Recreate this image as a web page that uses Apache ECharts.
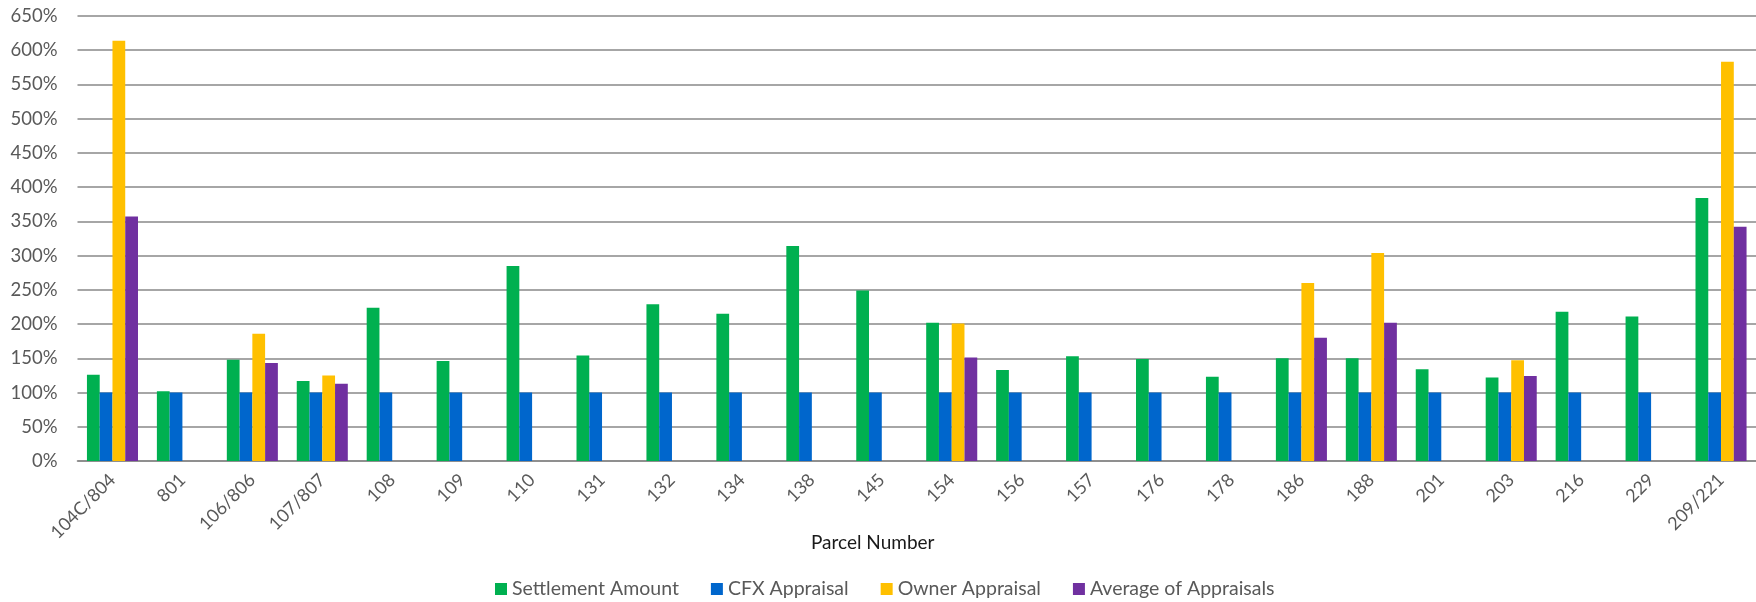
<!DOCTYPE html>
<html>
<head>
<meta charset="utf-8">
<title>Parcel Settlements vs Appraisals</title>
<script src="https://cdn.jsdelivr.net/npm/echarts@6/dist/echarts.min.js"></script>
<style>
  html, body { margin: 0; padding: 0; background: #ffffff; }
  #chart { width: 1756px; height: 602px; }
</style>
</head>
<body>
<div id="chart"></div>
<script>
// Parcel numbers along the x axis
const parcels = ['104C/804', '801', '106/806', '107/807', '108', '109', '110', '131', '132', '134',
  '138', '145', '154', '156', '157', '176', '178', '186', '188', '201', '203', '216', '229', '209/221'];

// Values in percent of the CFX appraisal
const settlementAmount = [126, 102, 148, 117, 224, 146, 285, 154, 229, 215, 314, 249,
  202, 133, 153, 149, 123, 150, 150, 134, 122, 218, 211, 384];
const cfxAppraisal = [100, 100, 100, 100, 100, 100, 100, 100, 100, 100, 100, 100,
  100, 100, 100, 100, 100, 100, 100, 100, 100, 100, 100, 100];
const ownerAppraisal = [614, null, 186, 125, null, null, null, null, null, null, null, null,
  201, null, null, null, null, 260, 304, null, 147, null, null, 583];
const averageOfAppraisals = [357, null, 143, 113, null, null, null, null, null, null, null, null,
  151, null, null, null, null, 180, 202, null, 124, null, null, 342];

// Y axis range and step, in percent
const yMin = 0;
const yMax = 650;
const yStep = 50;

const seriesDefs = [
  { name: 'Settlement Amount', data: settlementAmount, color: '#00B050' },
  { name: 'CFX Appraisal', data: cfxAppraisal, color: '#0066CC' },
  { name: 'Owner Appraisal', data: ownerAppraisal, color: '#FFC000' },
  { name: 'Average of Appraisals', data: averageOfAppraisals, color: '#7030A0' }
];

const FONT = 'Lato, "Open Sans", "Liberation Sans", sans-serif';
const GRID_COLOR = '#888888';

const chart = echarts.init(document.getElementById('chart'), null, { renderer: 'canvas' });

chart.setOption({
  animation: false,
  backgroundColor: '#ffffff',
  textStyle: { fontFamily: FONT },
  grid: { left: 77.5, right: 0, top: 16, bottom: 141, containLabel: false },
  legend: {
    left: 490,
    top: 574,
    itemWidth: 12,
    itemHeight: 12,
    itemGap: 32,
    icon: 'rect',
    textStyle: { color: '#595959', fontSize: 19.5, fontFamily: FONT },
    data: seriesDefs.map(s => s.name)
  },
  xAxis: {
    type: 'category',
    data: parcels,
    name: 'Parcel Number',
    nameLocation: 'middle',
    nameGap: 72,
    nameMoveOverlap: false,
    nameTextStyle: { color: '#1a1a1a', fontSize: 19, fontFamily: FONT, padding: [0, 88, 0, 0] },
    axisLine: { show: true, lineStyle: { color: GRID_COLOR, width: 1.6 } },
    axisTick: { show: false },
    axisLabel: {
      interval: 0,
      rotate: 45,
      margin: 16,
      color: '#595959',
      fontSize: 18,
      fontFamily: FONT
    },
    splitLine: { show: false }
  },
  yAxis: {
    type: 'value',
    min: yMin,
    max: yMax,
    interval: yStep,
    axisLine: { show: false },
    axisTick: { show: false },
    axisLabel: {
      formatter: '{value}%',
      margin: 20,
      color: '#595959',
      fontSize: 18.5,
      fontFamily: FONT
    },
    splitLine: { show: true, lineStyle: { color: GRID_COLOR, width: 1.6 } }
  },
  series: seriesDefs.map(s => ({
    name: s.name,
    type: 'bar',
    data: s.data,
    barGap: '0%',
    barCategoryGap: '27%',
    itemStyle: { color: s.color },
    emphasis: { disabled: true }
  }))
});
</script>
</body>
</html>
